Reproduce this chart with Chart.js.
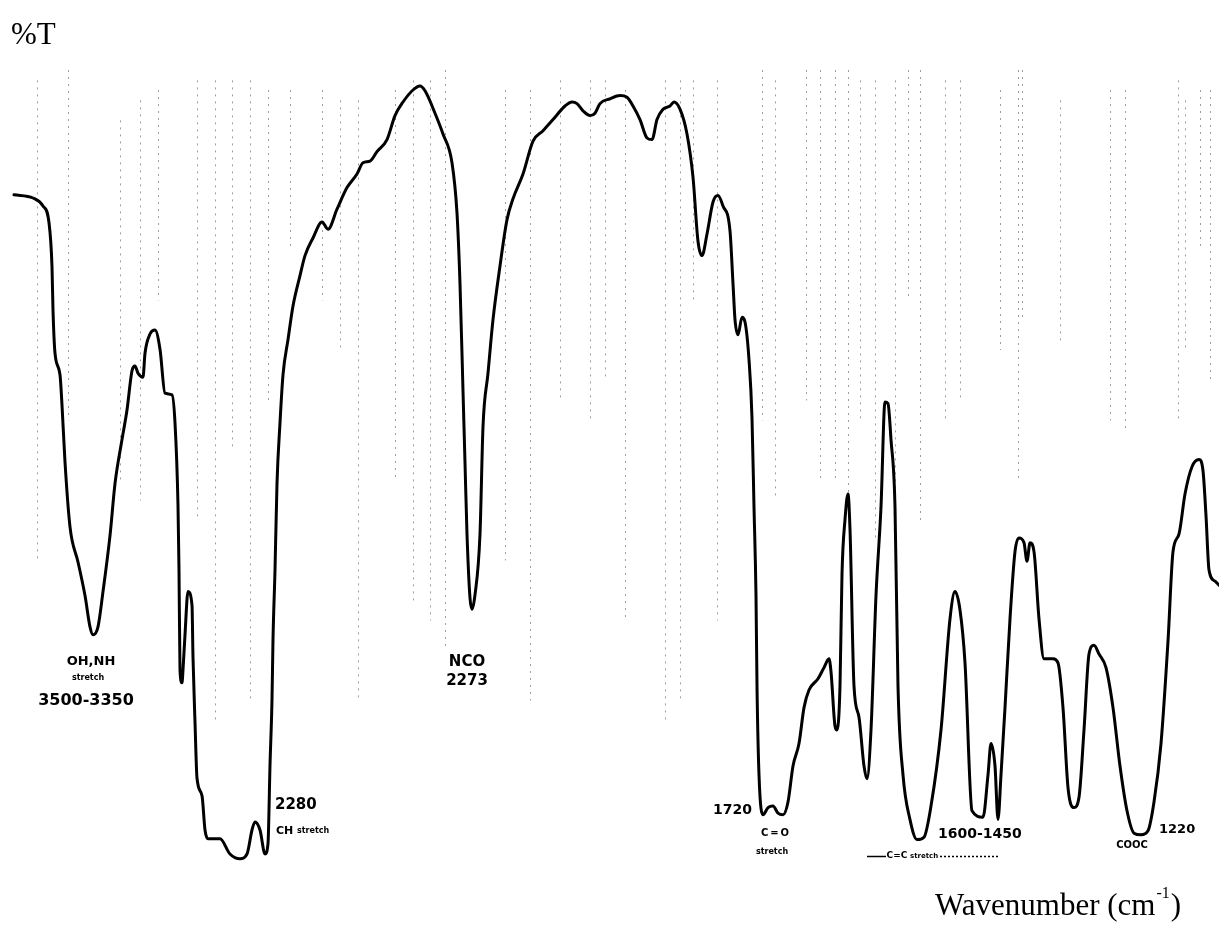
<!DOCTYPE html>
<html>
<head>
<meta charset="utf-8">
<script src="https://cdn.jsdelivr.net/npm/chart.js@4/dist/chart.umd.min.js"></script>
<style>
  html, body { margin: 0; padding: 0; background: #fff; }
  #wrap { width: 1219px; height: 926px; position: relative; }
</style>
</head>
<body>
<div id="wrap"><canvas id="ir"></canvas></div>
<script>
// Abscissa of the recorder trace (chart-paper units, high wavenumber on the left)
const position = [
  14, 33, 43, 49, 52, 53, 55, 60, 62, 65, 70, 78, 85, 90, 93, 98, 103, 110, 115, 122,
  127, 132, 135, 138, 143, 145, 150, 155, 160, 165, 172, 175, 178, 179, 180, 182, 183, 185, 188, 192,
  193, 195, 197, 202, 205, 208, 220, 230, 240, 247, 252, 255, 260, 265, 268, 270, 272, 273, 275, 277,
  280, 283, 288, 293, 300, 305, 313, 322, 328, 337, 347, 357, 363, 370, 377, 387, 395, 403, 413, 420,
  425, 435, 443, 452, 457, 460, 463, 465, 467, 470, 472, 475, 480, 483, 488, 493, 500, 507, 513, 523,
  533, 543, 553, 565, 572, 577, 583, 590, 595, 600, 610, 620, 627, 633, 640, 647, 652, 657, 663, 670,
  674, 680, 687, 693, 698, 702, 707, 713, 718, 723, 730, 733, 735, 738, 742, 745, 749, 752, 754, 756,
  757, 759, 763, 768, 773, 778, 783, 788, 793, 799, 804, 809, 818, 824, 829, 831, 835, 837, 840, 842,
  845, 848, 850, 854, 859, 864, 867, 871, 876, 881, 885, 888, 891, 895, 898, 903, 910, 917, 924, 931,
  941, 950, 955, 960, 965, 972, 983, 988, 991, 995, 998, 1001, 1005, 1010, 1015, 1019, 1024, 1027, 1030, 1034,
  1039, 1044, 1053, 1058, 1063, 1068, 1074, 1079, 1084, 1089, 1094, 1099, 1106, 1113, 1120, 1127, 1134, 1141, 1148, 1154,
  1161, 1168, 1173, 1179, 1185, 1192, 1199, 1203, 1206, 1209, 1215, 1219
];

// Percent transmittance at each position
const transmittance = [
  84.4, 84.0, 83.0, 80.9, 75.4, 70.0, 64.6, 61.9, 58.1, 51.0, 42.9, 38.5, 34.3, 30.4, 29.4, 30.4, 34.8, 41.8, 48.3, 53.8,
  57.5, 62.4, 63.0, 62.1, 61.6, 64.6, 67.0, 67.5, 65.1, 59.6, 59.4, 55.9, 45.6, 37.5, 25.0, 23.4, 25.0, 29.4, 34.8, 33.1,
  26.6, 18.5, 11.5, 9.3, 5.0, 3.9, 3.9, 2.0, 1.4, 2.0, 5.0, 6.0, 5.0, 2.0, 3.3, 13.1, 21.3, 28.8, 37.5, 48.3,
  55.9, 61.9, 66.3, 70.5, 74.3, 76.8, 79.0, 81.0, 80.1, 82.6, 85.3, 87.0, 88.4, 88.6, 89.8, 91.3, 94.3, 96.0, 97.5, 98.0,
  97.4, 94.6, 92.0, 88.4, 82.1, 73.3, 59.9, 50.9, 42.0, 34.0, 32.6, 34.4, 42.0, 55.4, 62.1, 68.8, 75.5, 81.3, 83.9, 87.0,
  91.1, 92.4, 93.8, 95.5, 96.0, 95.8, 94.9, 94.3, 94.6, 95.8, 96.4, 96.8, 96.6, 95.5, 93.8, 91.5, 91.3, 93.8, 95.1, 95.5,
  96.0, 95.1, 92.0, 86.6, 78.6, 76.8, 79.5, 83.5, 84.3, 83.0, 79.9, 73.3, 68.8, 66.9, 69.1, 68.5, 63.8, 56.5, 45.4, 34.3,
  23.0, 11.9, 6.9, 7.8, 8.0, 7.1, 6.9, 8.5, 13.0, 15.8, 20.3, 22.5, 23.9, 25.3, 26.4, 24.8, 18.0, 17.5, 23.0, 37.0,
  43.8, 47.0, 42.6, 23.0, 19.1, 13.0, 11.4, 17.5, 34.3, 45.4, 58.5, 58.3, 53.8, 45.4, 23.0, 11.9, 6.3, 3.8, 4.1, 8.0,
  17.5, 31.4, 34.8, 32.5, 25.9, 7.4, 6.6, 11.9, 15.8, 13.0, 6.3, 11.9, 20.3, 31.4, 39.8, 41.5, 40.9, 38.6, 40.9, 39.8,
  31.4, 26.4, 26.4, 25.9, 20.3, 10.3, 7.8, 9.1, 17.5, 27.0, 28.1, 27.0, 25.3, 20.3, 13.0, 7.4, 4.6, 4.4, 4.9, 8.5,
  15.8, 28.6, 39.8, 42.0, 47.0, 50.4, 51.3, 49.9, 44.3, 37.5, 36.1, 35.6
];

// Band assignments written on the trace
const bandNumbers = ['3500-3350', '2280', '2273', '1720', '1600-1450', '1220'];
const bandGroups  = ['OH,NH', 'CH', 'NCO', 'C=O', 'C=C', 'COOC'];
const axisTitles  = { y: '%T', x: 'Wavenumber (cm', xSup: '-1', xEnd: ')' };

// Where each text item sits (abscissa, %T) and how it is set
const textLayout = [
  { t: bandGroups[0],  x: 91,   y: 26.0, align: 'center', font: 'bold 13px "DejaVu Sans"' },
  { t: 'stretch',      x: 88,   y: 24.0, align: 'center', font: 'bold 8px "DejaVu Sans"' },
  { t: bandNumbers[0], x: 86,   y: 21.2, align: 'center', font: 'bold 16px "DejaVu Sans"' },
  { t: bandNumbers[1], x: 275,  y: 8.1,  align: 'left',   font: 'bold 15px "DejaVu Sans"' },
  { t: bandGroups[1],  x: 276,  y: 4.9,  align: 'left',   font: 'bold 11px "DejaVu Sans"' },
  { t: 'stretch',      x: 297,  y: 4.9,  align: 'left',   font: 'bold 8px "DejaVu Sans"' },
  { t: bandGroups[2],  x: 467,  y: 26.0, align: 'center', font: 'bold 15px "DejaVu Sans"' },
  { t: bandNumbers[2], x: 467,  y: 23.6, align: 'center', font: 'bold 15px "DejaVu Sans"' },
  { t: bandNumbers[3], x: 752,  y: 7.4,  align: 'right',  font: 'bold 14px "DejaVu Sans"' },
  { t: 'C\u2009=\u2009O', x: 775, y: 4.6, align: 'center', font: 'bold 10px "DejaVu Sans"' },
  { t: 'stretch',      x: 772,  y: 2.3,  align: 'center', font: 'bold 8px "DejaVu Sans"' },
  { t: bandNumbers[4], x: 938,  y: 4.5,  align: 'left',   font: 'bold 14px "DejaVu Sans"' },
  { t: bandGroups[4],  x: 897,  y: 1.75, align: 'center', font: 'bold 9px "DejaVu Sans"' },
  { t: 'stretch',      x: 910,  y: 1.75, align: 'left',   font: 'bold 7px "DejaVu Sans"' },
  { t: bandGroups[5],  x: 1132, y: 3.1,  align: 'center', font: 'bold 10px "DejaVu Sans"' },
  { t: bandNumbers[5], x: 1159, y: 5.1,  align: 'left',   font: 'bold 13px "DejaVu Sans"' }
];

// Dotted guide rules printed on the chart paper: [abscissa, top %T, bottom %T]
const paperRules = [
  [37, 98.7, 38.7], [68, 100, 56.2], [120, 93.7, 48.7], [140, 96.2, 46.2], [158, 97.5, 71.2],
  [197, 98.7, 43.7], [215, 98.7, 18.7], [232, 98.7, 52.5], [250, 98.7, 21.2], [268, 97.5, 58.7],
  [290, 97.5, 77.5], [322, 97.5, 71.2], [340, 96.2, 65.0], [358, 96.2, 21.2], [395, 97.5, 48.7],
  [413, 98.7, 33.7], [430, 98.7, 31.2], [445, 100, 27.5], [505, 97.5, 38.7], [530, 97.5, 21.2],
  [560, 98.7, 58.7], [590, 98.7, 56.2], [605, 98.7, 61.2], [625, 97.5, 31.2], [665, 98.7, 18.7],
  [680, 98.7, 21.2], [693, 98.7, 71.2], [717, 98.7, 31.2], [762, 100, 56.2], [775, 98.7, 46.2],
  [806, 100, 58.7], [820, 100, 48.7], [835, 100, 48.7], [848, 100, 46.2], [860, 98.7, 56.2],
  [875, 98.7, 41.2], [895, 98.7, 41.2], [908, 100, 71.2], [920, 100, 43.7], [945, 98.7, 56.2],
  [960, 98.7, 58.7], [1000, 97.5, 65.0], [1018, 100, 48.7], [1022, 100, 68.7], [1060, 96.2, 66.2],
  [1110, 97.5, 56.2], [1125, 97.5, 55.0], [1178, 98.7, 56.2], [1185, 96.2, 65.0], [1200, 97.5, 77.5],
  [1210, 97.5, 61.2]
];

const points = position.map((p, i) => ({ x: p, y: transmittance[i] }));

// Faint dotted rules behind the trace
const paperPlugin = {
  id: 'paperRules',
  beforeDatasetsDraw(chart) {
    const { ctx, scales: { x, y } } = chart;
    ctx.save();
    ctx.strokeStyle = 'rgba(60,60,60,0.5)';
    ctx.lineWidth = 1;
    ctx.setLineDash([2, 5]);
    paperRules.forEach(([px, top, bottom]) => {
      const xx = Math.round(x.getPixelForValue(px)) + 0.5;
      ctx.beginPath();
      ctx.moveTo(xx, y.getPixelForValue(top));
      ctx.lineTo(xx, y.getPixelForValue(bottom));
      ctx.stroke();
    });
    ctx.restore();
  }
};

// Band labels and axis titles
const labelPlugin = {
  id: 'bandLabels',
  afterDatasetsDraw(chart) {
    const { ctx, scales: { x, y } } = chart;
    ctx.save();
    ctx.fillStyle = '#000';
    ctx.textBaseline = 'middle';
    textLayout.forEach(l => {
      ctx.font = l.font;
      ctx.textAlign = l.align;
      ctx.fillText(l.t, x.getPixelForValue(l.x), y.getPixelForValue(l.y));
    });

    // rules either side of the C=C stretch note
    const ly = Math.round(y.getPixelForValue(1.75)) + 0.5;
    ctx.strokeStyle = '#000';
    ctx.lineWidth = 1.5;
    ctx.beginPath();
    ctx.moveTo(x.getPixelForValue(867), ly);
    ctx.lineTo(x.getPixelForValue(886), ly);
    ctx.stroke();
    ctx.setLineDash([2, 2]);
    ctx.beginPath();
    ctx.moveTo(x.getPixelForValue(940), ly);
    ctx.lineTo(x.getPixelForValue(998), ly);
    ctx.stroke();
    ctx.setLineDash([]);

    // axis titles
    ctx.textAlign = 'left';
    ctx.textBaseline = 'alphabetic';
    ctx.font = '31px "Liberation Serif"';
    ctx.fillText(axisTitles.y, 11, 44);
    const bx = 935, by = 915;
    ctx.fillText(axisTitles.x, bx, by);
    const w = ctx.measureText(axisTitles.x).width;
    ctx.font = '16px "Liberation Serif"';
    ctx.fillText(axisTitles.xSup, bx + w + 1, by - 17);
    const ws = ctx.measureText(axisTitles.xSup).width;
    ctx.font = '31px "Liberation Serif"';
    ctx.fillText(axisTitles.xEnd, bx + w + ws + 2, by);
    ctx.restore();
  }
};

new Chart(document.getElementById('ir'), {
  type: 'line',
  data: {
    datasets: [{
      data: points,
      borderColor: '#000',
      borderWidth: 3,
      pointRadius: 0,
      cubicInterpolationMode: 'monotone',
      borderJoinStyle: 'round',
      borderCapStyle: 'round',
      fill: false
    }]
  },
  options: {
    responsive: true,
    maintainAspectRatio: false,
    animation: false,
    layout: { padding: 0 },
    plugins: { legend: { display: false }, tooltip: { enabled: false } },
    scales: {
      x: { type: 'linear', min: 0, max: 1219, display: false },
      y: { type: 'linear', min: -7, max: 108.75, display: false }
    }
  },
  plugins: [paperPlugin, labelPlugin]
});
</script>
</body>
</html>
